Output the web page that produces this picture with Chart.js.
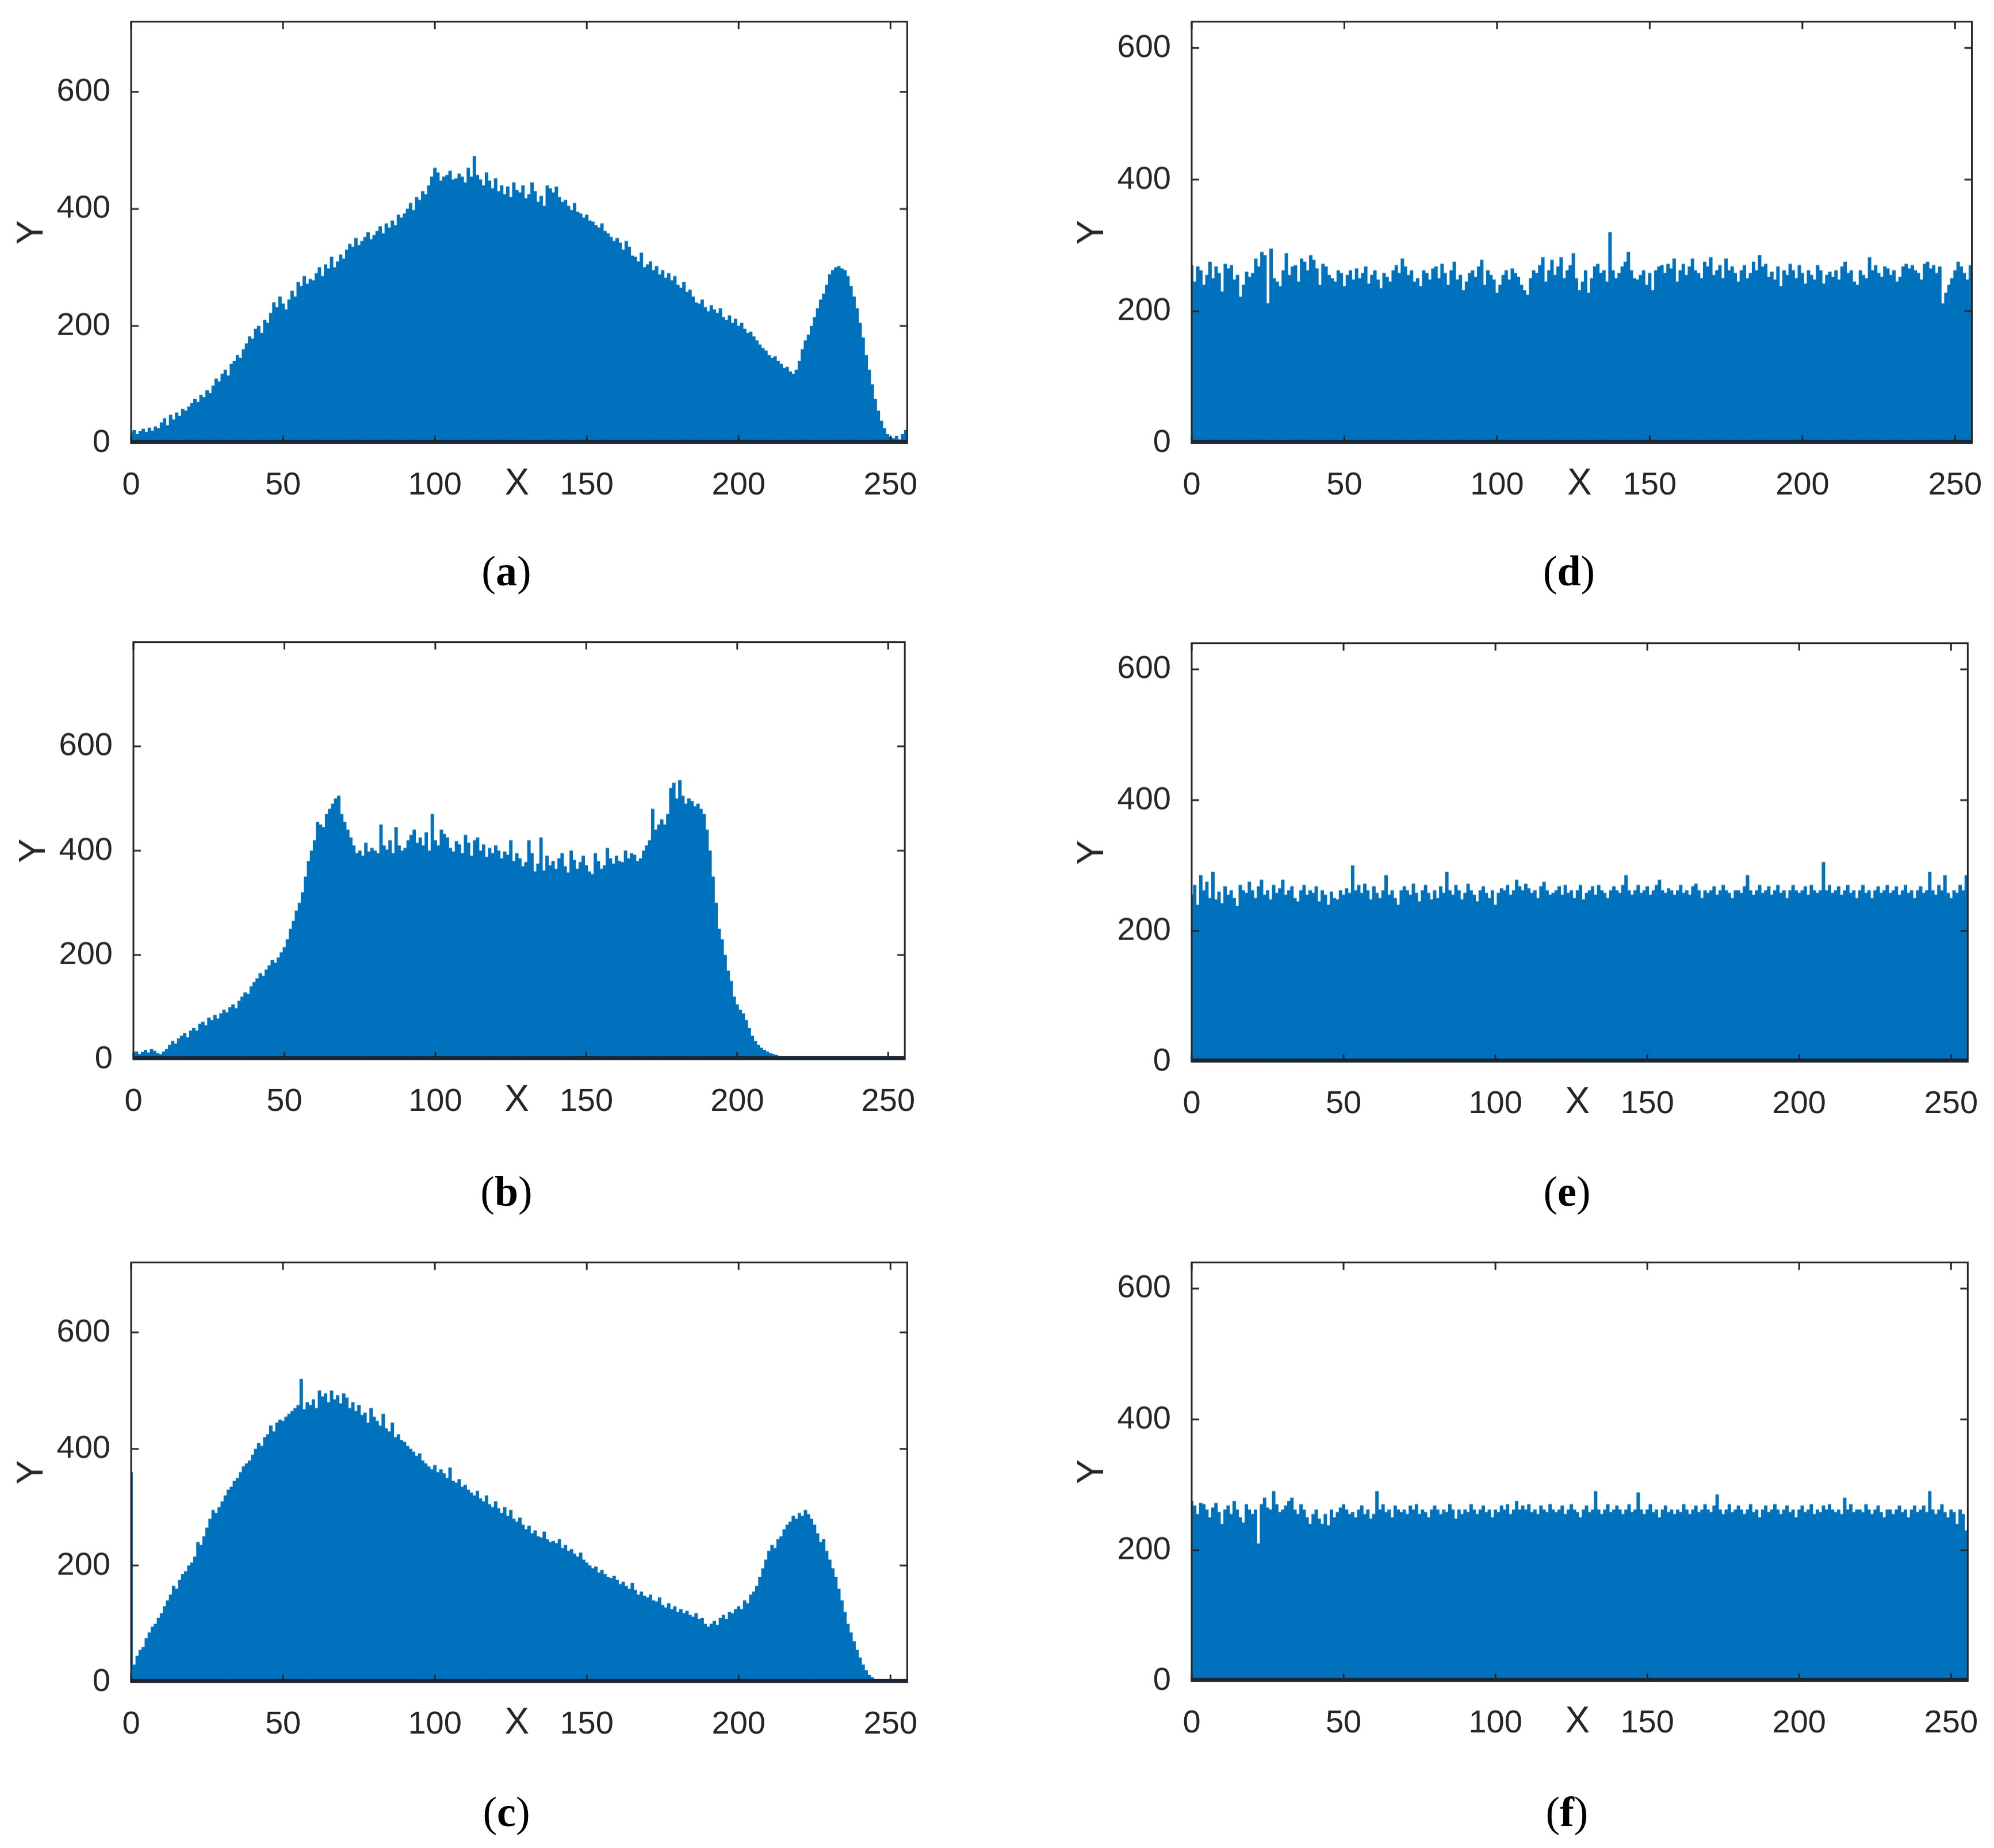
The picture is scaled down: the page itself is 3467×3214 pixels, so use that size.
<!DOCTYPE html>
<html><head><meta charset="utf-8">
<script src="https://cdn.jsdelivr.net/npm/chart.js@4"></script>
<style>
body{margin:0;background:#fff;width:3467px;height:3214px;position:relative;overflow:hidden}
canvas{position:absolute}
.lab{position:absolute;font-family:"Liberation Serif","DejaVu Serif",serif;font-size:74px;color:#000;transform:translate(-50%,-50%)}
</style></head><body>
<script>
const xTicks=[0,50,100,150,200,250];
const yTicks=[0,200,400,600];
const histA=[18,22,15,20,24,19,26,21,28,25,35,42,30,48,40,52,46,58,55,62,68,75,70,82,78,90,85,98,110,105,118,125,115,135,140,150,145,160,170,182,178,195,200,188,210,205,222,240,232,250,238,228,245,260,250,275,268,285,272,280,278,290,300,285,305,298,318,300,310,322,315,330,340,335,350,338,345,352,360,348,355,362,370,358,375,368,380,372,390,385,392,400,410,398,420,415,430,425,440,455,470,462,448,455,458,465,450,452,460,455,445,470,455,490,458,450,440,462,448,435,452,430,440,425,438,420,445,432,428,440,418,425,445,430,412,422,405,440,435,428,438,420,412,415,405,398,410,395,392,385,390,380,378,372,368,375,362,358,352,345,350,342,330,345,335,320,318,310,325,300,305,310,295,302,288,295,282,290,278,285,270,265,275,258,262,250,240,238,245,232,225,235,228,222,230,215,210,218,205,212,200,205,195,188,190,182,175,168,162,158,150,145,148,140,135,128,130,122,118,125,140,160,175,185,200,215,230,245,255,270,288,295,300,302,298,295,285,268,250,230,205,180,150,125,100,75,55,38,25,15,10,8,12,6,15,22];
const histB=[12,15,10,14,18,13,20,16,12,10,15,20,28,35,30,40,45,50,42,55,60,55,68,72,65,80,75,85,78,88,95,90,100,105,98,112,120,128,125,140,148,155,165,160,172,180,190,185,195,205,215,230,250,265,285,300,320,350,380,400,420,455,450,445,470,480,490,500,505,470,455,440,425,410,395,400,390,415,398,405,400,395,450,410,402,420,395,445,410,400,405,420,430,440,415,425,410,435,400,470,420,410,440,432,425,405,398,418,412,395,430,415,390,420,425,400,412,388,405,395,410,400,385,398,392,420,380,395,385,370,378,420,395,360,375,425,362,390,372,380,365,385,395,370,358,400,382,365,378,390,372,360,355,395,380,365,372,405,385,375,390,380,378,400,385,395,392,380,385,400,410,420,480,440,450,460,450,470,520,530,500,535,505,490,500,495,485,490,480,470,440,400,350,300,250,230,200,170,150,120,105,95,88,75,60,45,35,28,22,18,15,12,10,8,6,5,4,3,3,2,0,0,0,0,0,0,0,0,0,0,0,0,0,0,0,0,0,0,0,0,0,0,0,0,0,0,0,0,0,0,0,0,0,0,0,0];
const histC=[360,30,45,55,60,75,85,95,100,110,118,130,140,150,165,160,175,185,190,200,205,215,240,235,250,265,280,295,290,300,310,320,330,335,345,350,360,370,375,380,390,400,410,405,420,425,440,430,445,450,448,455,460,465,470,475,520,468,480,475,485,470,500,490,495,480,500,485,492,478,495,488,470,480,465,475,458,462,445,470,455,448,440,460,435,430,445,420,425,415,412,405,400,395,388,392,380,375,370,365,372,360,365,358,350,368,345,342,348,335,338,330,325,320,328,315,310,320,305,300,310,298,290,300,285,295,280,275,282,270,262,268,255,260,250,248,258,245,240,242,238,245,230,235,225,228,220,215,222,210,205,200,195,198,188,192,185,180,178,182,175,168,172,165,160,170,158,150,155,148,145,150,140,138,145,132,128,135,125,130,120,125,118,122,115,112,118,108,110,100,95,100,105,98,110,115,108,120,118,125,130,125,140,135,150,155,165,180,195,210,225,235,230,245,250,262,270,275,285,280,290,285,295,288,280,270,255,240,245,225,210,195,180,160,140,120,100,85,70,55,42,30,20,12,8,4,2,1,0,0,0,0,0,0,0,0];
const histD=[270,245,268,262,240,255,275,250,268,258,230,272,265,270,248,255,222,240,260,252,258,280,268,290,285,212,295,250,245,238,262,288,255,268,270,245,280,275,262,285,278,265,240,272,268,255,250,245,262,258,238,255,262,248,265,250,258,268,242,255,262,248,235,258,252,245,262,270,258,280,268,255,262,245,250,238,262,258,248,265,268,250,272,258,240,262,275,248,255,232,245,258,262,252,268,278,240,262,255,248,228,240,255,262,248,265,258,252,240,232,225,250,262,258,270,282,245,262,278,255,268,282,250,262,270,288,250,232,245,262,228,250,268,272,258,262,245,320,262,250,258,268,275,290,262,250,248,255,262,240,258,232,262,268,270,258,272,265,280,245,262,272,255,268,280,262,258,250,275,268,282,255,262,270,250,280,262,268,258,245,262,270,250,258,275,262,285,268,272,252,260,248,268,238,262,255,272,262,250,270,258,242,262,255,248,270,262,242,255,260,252,262,248,268,275,258,262,245,240,262,255,250,282,262,270,258,252,268,265,255,262,245,252,268,272,265,270,262,258,248,272,275,265,270,258,268,212,228,240,250,262,275,268,258,248,270];
const histE=[255,270,240,285,262,275,250,290,248,260,242,268,255,262,250,238,270,262,258,275,262,250,268,278,255,262,248,270,258,265,278,255,262,268,250,245,262,270,255,262,258,268,245,262,255,240,260,250,248,262,255,265,258,300,262,270,258,272,262,248,268,258,250,262,285,255,262,250,240,262,268,262,255,272,258,245,262,270,258,248,262,250,268,258,290,262,255,270,262,248,258,272,262,255,245,262,268,258,250,262,240,258,265,262,270,255,262,278,268,262,272,265,258,262,250,268,275,262,255,258,262,268,255,270,258,262,250,262,270,248,258,262,268,255,270,262,258,250,262,268,262,258,270,285,262,255,262,270,258,262,268,255,262,270,278,262,258,265,262,255,262,270,258,262,255,268,272,262,250,262,258,262,268,255,262,270,262,258,250,262,262,258,268,285,262,255,262,270,258,262,268,255,262,270,258,262,250,262,270,262,258,262,268,255,270,262,258,262,305,262,270,258,262,268,255,262,270,258,262,250,262,270,258,262,250,262,268,258,262,270,258,262,268,255,262,270,258,262,250,262,268,258,262,290,262,255,270,262,285,258,250,262,258,270,262,285];
const histF=[275,268,255,272,270,262,250,265,272,258,240,262,268,255,275,262,250,242,270,262,255,262,210,270,280,265,262,290,270,258,262,268,275,280,262,255,270,262,250,240,255,262,248,240,255,238,262,250,258,265,270,262,255,258,250,262,268,255,262,248,255,290,262,270,258,262,250,268,262,258,262,255,268,262,270,255,262,258,250,262,268,262,255,262,258,270,262,248,262,255,262,258,270,262,255,262,268,258,262,250,262,258,268,262,270,255,262,275,262,268,262,270,258,262,255,268,262,258,270,262,258,262,268,255,262,270,262,258,250,262,268,258,262,290,262,255,262,270,258,262,268,262,255,262,270,258,262,288,262,255,262,270,258,262,250,262,268,258,262,255,262,258,270,262,255,262,268,258,262,270,262,258,268,285,262,255,262,270,258,262,268,262,255,262,270,258,262,250,262,268,258,262,270,262,255,262,268,258,262,250,262,268,258,262,270,255,262,258,268,262,270,262,258,262,255,280,262,270,258,262,262,258,270,262,255,262,268,258,250,262,262,255,262,268,258,262,250,262,268,258,262,268,258,290,262,255,262,270,258,250,262,258,240,262,255,230];

const YW=210, PT=12, PR=45, XH=110;
const panels=[
 {d:histA,ymax:720,l:228,r:1583,t:38,b:770,lab:'a'},
 {d:histB,ymax:800,l:232,r:1579,t:1117,b:1842,lab:'b'},
 {d:histC,ymax:720,l:228,r:1583,t:2196,b:2925,lab:'c'},
 {d:histD,ymax:640,l:2072,r:3434,t:38,b:770,lab:'d'},
 {d:histE,ymax:640,l:2072,r:3427,t:1119,b:1846,lab:'e'},
 {d:histF,ymax:640,l:2072,r:3427,t:2196,b:2923,lab:'f'}
];
const FONT='"Liberation Sans", Arial, sans-serif';
const frame={id:'frame',afterDatasetsDraw(ch){
  const c=ch.ctx,a=ch.chartArea,x=ch.scales.x,y=ch.scales.y;
  c.save();
  c.strokeStyle='#16263c';c.lineWidth=7;
  c.beginPath();c.moveTo(a.left,y.getPixelForValue(0)-2);c.lineTo(a.right,y.getPixelForValue(0)-2);c.stroke();
  c.strokeStyle='#262626';c.lineWidth=3;
  c.strokeRect(a.left,a.top,a.right-a.left,a.bottom-a.top);
  const L=13;c.beginPath();
  xTicks.forEach(v=>{const p=x.getPixelForValue(v);c.moveTo(p,a.bottom);c.lineTo(p,a.bottom-L);c.moveTo(p,a.top);c.lineTo(p,a.top+L);});
  yTicks.forEach(v=>{const p=y.getPixelForValue(v);c.moveTo(a.left,p);c.lineTo(a.left+L,p);c.moveTo(a.right,p);c.lineTo(a.right-L,p);});
  c.stroke();
  c.fillStyle='#262626';c.font='64px '+FONT;c.textAlign='center';c.textBaseline='middle';
  c.fillText('X',x.getPixelForValue(127),a.bottom+72);
  c.restore();
}};
panels.forEach(p=>{
  const cv=document.createElement('canvas');
  const w=(p.r-p.l)+YW+PR, h=(p.b-p.t)+PT+XH;
  cv.style.left=(p.l-YW)+'px';cv.style.top=(p.t-PT)+'px';
  document.body.appendChild(cv);
  const ch=new Chart(cv,{type:'bar',
    data:{datasets:[{data:p.d.map((v,i)=>({x:i,y:v})),backgroundColor:'#0072BD',borderWidth:0,barPercentage:1,categoryPercentage:1,grouped:false}]},
    options:{responsive:false,maintainAspectRatio:false,animation:false,devicePixelRatio:1,
      layout:{padding:{top:PT,right:PR,left:0,bottom:0}},
      plugins:{legend:{display:false},tooltip:{enabled:false}},
      scales:{
        x:{type:'linear',min:0,max:255.5,offset:false,grid:{display:false},border:{display:false},
           afterBuildTicks:s=>{s.ticks=xTicks.map(v=>({value:v}));},
           afterFit:s=>{s.height=XH;},
           ticks:{font:{size:56,family:FONT},color:'#262626',padding:32,maxRotation:0,autoSkip:false}},
        y:{min:0,max:p.ymax,grid:{display:false},border:{display:false},
           afterBuildTicks:s=>{s.ticks=yTicks.map(v=>({value:v}));},
           afterFit:s=>{s.width=YW;},
           ticks:{font:{size:56,family:FONT},color:'#262626',padding:28},
           title:{display:true,text:'Y',font:{size:64,family:FONT},color:'#262626',padding:0}}
      }},
    plugins:[frame]});
  ch.resize(w,h);
  const extra=ch.chartArea.top-PT;
  if(extra>0){cv.style.top=(p.t-PT-extra)+'px';ch.resize(w,h+extra);}
  const d=document.createElement('div');d.className='lab';
  d.innerHTML='(<b>'+p.lab+'</b>)';
  d.style.left=((p.l+p.r)/2-25)+'px';
  d.style.top=(p.t<1000?993:(p.t<2000?2072:3151))+'px';
  document.body.appendChild(d);
});
</script></body></html>
